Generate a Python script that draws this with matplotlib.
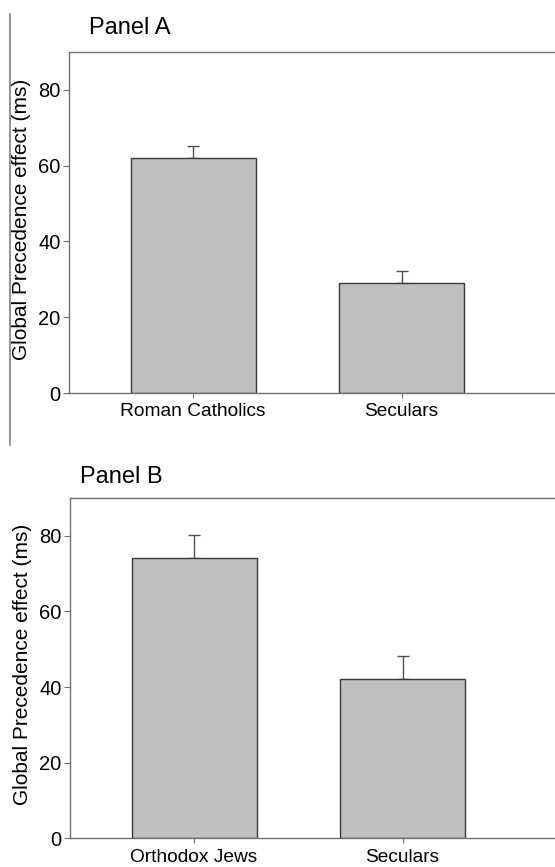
import matplotlib
matplotlib.use("Agg")
import matplotlib.pyplot as plt
from matplotlib.lines import Line2D
import numpy as np

plt.rcParams['font.family'] = ['Liberation Sans', 'DejaVu Sans']

# Panel A data
groups_a = ["Roman Catholics", "Seculars"]
means_a = [62, 29]
errs_a = [3.2, 3.2]

# Panel B data
groups_b = ["Orthodox Jews", "Seculars"]
means_b = [74, 42]
errs_b = [6.1, 6.1]

ylabel = "Global Precedence effect (ms)"
yticks = [0, 20, 40, 60, 80]

W, H = 555, 867
fig = plt.figure(figsize=(W / 100, H / 100), dpi=100)

spine_col = "#707070"
edge_col = "#3a3a3a"
bar_col = "#c0c0c0"


def panel(rect, groups, means, errs, title, title_xy, xpad):
    ax = fig.add_axes(rect)
    x = np.arange(len(groups))
    ax.bar(x, means, width=0.6, color=bar_col, edgecolor=edge_col, linewidth=1.0, zorder=2)
    ax.errorbar(x, means, yerr=[np.zeros(len(errs)), errs], fmt="none",
                ecolor="#505050", elinewidth=1.0, capsize=4.5, capthick=1.0, zorder=1)
    ax.set_xlim(-0.595, 1.76)
    ax.set_ylim(0, 90)
    ax.set_yticks(yticks)
    ax.set_xticks(x)
    ax.set_xticklabels(groups, fontsize=13.8)
    ax.tick_params(axis="y", labelsize=14.5, length=4.5, pad=1.5, color=spine_col)
    ax.tick_params(axis="x", length=3.5, pad=xpad, color=spine_col)
    for s in ax.spines.values():
        s.set_color(spine_col)
        s.set_linewidth(1.0)
    ax.set_ylabel(ylabel, fontsize=15)
    ax.yaxis.set_label_coords(-0.078, 0.51)
    fig.text(title_xy[0] / W, 1 - title_xy[1] / H, title, fontsize=17, va="baseline", ha="left")
    return ax


ax_a = panel([69 / W, 1 - 393 / H, 491 / W, 341 / H], groups_a, means_a, errs_a, "Panel A", (89, 34), 4)
ax_b = panel([70 / W, 1 - 838.3 / H, 491 / W, 340.3 / H], groups_b, means_b, errs_b, "Panel B", (80, 483), 4.5)

# page separator line at the left
fig.add_artist(Line2D([10 / W, 10 / W], [1 - 14 / H, 1 - 445 / H], color="#808080", linewidth=1.2))

fig.savefig("out.png", dpi=100)
